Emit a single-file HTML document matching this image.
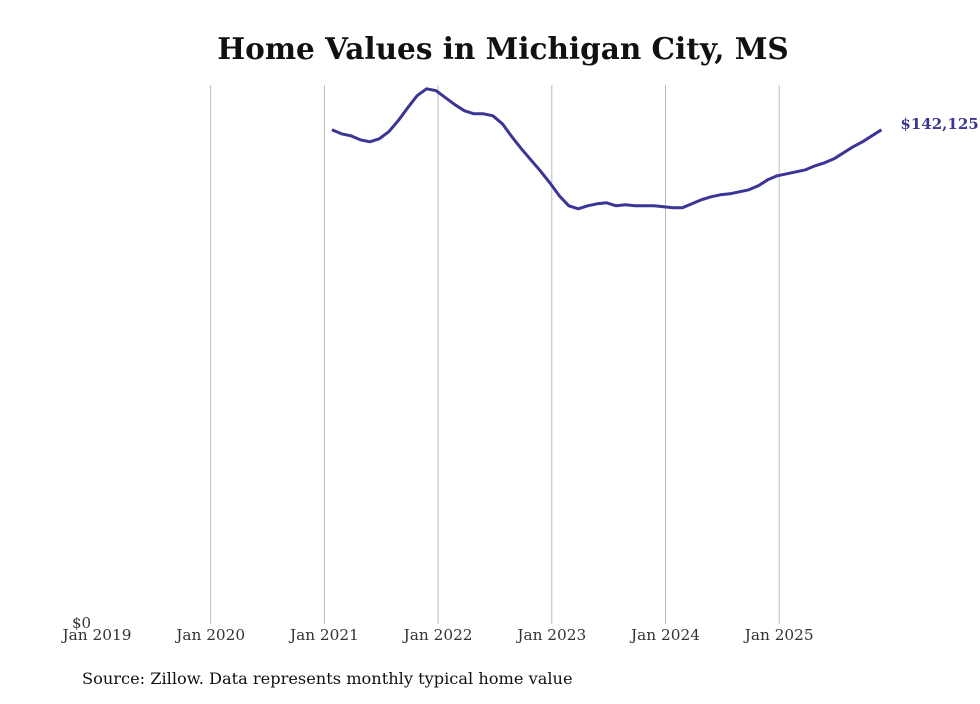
<!DOCTYPE html>
<html><head><meta charset="utf-8"><style>
body{margin:0;background:#fff;}
svg text{font-family:"DejaVu Serif","Liberation Serif",serif;}
</style></head><body>
<svg width="980" height="699" viewBox="0 0 980 699">
<text x="503" y="59" text-anchor="middle" font-size="29.5" font-weight="bold" fill="#111">Home Values in Michigan City, MS</text>
<g id="grid"></g>
<g id="xlabels"></g>
<text x="72" y="628" font-size="15" fill="#333">$0</text>
<path id="line" fill="none" stroke="#3b3596" stroke-width="3" stroke-linejoin="round"/>
<text id="endlabel" font-size="15" font-weight="bold" fill="#3b3596"></text>
<text x="82" y="684" font-size="16.2" fill="#111">Source: Zillow. Data represents monthly typical home value</text>
</svg>
<script>
const yearLabels=["Jan 2019","Jan 2020","Jan 2021","Jan 2022","Jan 2023","Jan 2024","Jan 2025"];
const startMonthIndex=25; // Feb 2021, months since Jan 2019
const values=[142125,140970,140400,139250,138670,139530,141550,144720,148450,151910,153920,153350,151330,149320,147590,146730,146730,146150,143850,140110,136660,133490,130330,126880,123140,120260,119400,120260,120830,121120,120260,120550,120260,120260,120260,119970,119680,119680,120830,121980,122850,123420,123710,124290,124860,126010,127740,128890,129470,130040,130620,131770,132630,133780,135510,137230,138670,140400,142125];
const yMax=155000;
const x0=97,pxPerMonth=113.7/12,yTop=85,yBot=624;
const xs=m=>x0+m*pxPerMonth;
const ys=v=>yBot-(v/yMax)*(yBot-yTop);
const ns="http://www.w3.org/2000/svg";
const grid=document.getElementById('grid'),xl=document.getElementById('xlabels');
yearLabels.forEach((lab,i)=>{
 const x=xs(i*12);
 if(i>0){const l=document.createElementNS(ns,'line');
 l.setAttribute('x1',x);l.setAttribute('x2',x);l.setAttribute('y1',yTop);l.setAttribute('y2',yBot);
 l.setAttribute('stroke','#bbb');l.setAttribute('stroke-width','1');
 
 
 grid.appendChild(l);}
 const t=document.createElementNS(ns,'text');
 t.setAttribute('x',x);t.setAttribute('y',640);t.setAttribute('text-anchor','middle');t.setAttribute('font-size','15.3');t.setAttribute('fill','#333');
 t.textContent=lab;
 
 
 xl.appendChild(t);
});
let d='';
values.forEach((v,i)=>{d+=(i?'L':'M')+(xs(startMonthIndex+i)-2).toFixed(1)+' '+ys(v).toFixed(1);});
document.getElementById('line').setAttribute('d',d);
const last=values[values.length-1];
const el=document.getElementById('endlabel');
el.setAttribute('x',xs(startMonthIndex+values.length-1)+17);
el.setAttribute('y',ys(last)-1);
el.textContent='$'+last.toLocaleString('en-US');
</script>
</body></html>
